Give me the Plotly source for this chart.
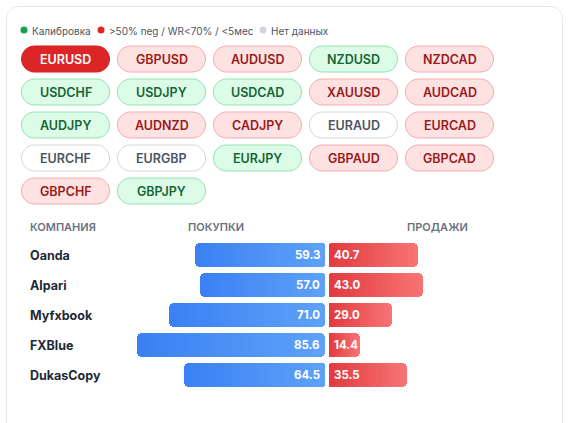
import plotly.graph_objects as go

W, H = 569, 423

# ---------------- data ----------------
pairs = ["EURUSD", "GBPUSD", "AUDUSD", "NZDUSD", "NZDCAD",
         "USDCHF", "USDJPY", "USDCAD", "XAUUSD", "AUDCAD",
         "AUDJPY", "AUDNZD", "CADJPY", "EURAUD", "EURCAD",
         "EURCHF", "EURGBP", "EURJPY", "GBPAUD", "GBPCAD",
         "GBPCHF", "GBPJPY"]
pair_status = ["active", "neg", "neg", "calib", "neg",
               "calib", "calib", "calib", "neg", "neg",
               "calib", "neg", "neg", "none", "neg",
               "none", "none", "calib", "neg", "neg",
               "neg", "calib"]

legend_labels = ["Калибровка", ">50% neg / WR<70% / <5мес", "Нет данных"]
legend_colors = ["#16a34a", "#dc2626", "#d1d5db"]

headers = ["КОМПАНИЯ", "ПОКУПКИ", "ПРОДАЖИ"]
companies = ["Oanda", "Alpari", "Myfxbook", "FXBlue", "DukasCopy"]
buy = [59.3, 57.0, 71.0, 85.6, 64.5]
sell = [40.7, 43.0, 29.0, 14.4, 35.5]

# ---------------- styling / layout helpers ----------------
FONT = "Inter, Noto Sans, sans-serif"
CENTER_PX = 327.0
SCALE = 2.2          # px per percent
ROW0_PX = 255.0
ROW_STEP = 30.0
GAP = 0.7            # half gap between buy/sell bars (units)

def X(p):
    return p / W

def Y(p):
    return 1 - p / H

def rrect(x0, y0, x1, y1, r):
    k = 0.5523 * r
    pts = [
        f"M {X(x0 + r)},{Y(y0)}",
        f"L {X(x1 - r)},{Y(y0)}",
        f"C {X(x1 - r + k)},{Y(y0)} {X(x1)},{Y(y0 + r - k)} {X(x1)},{Y(y0 + r)}",
        f"L {X(x1)},{Y(y1 - r)}",
        f"C {X(x1)},{Y(y1 - r + k)} {X(x1 - r + k)},{Y(y1)} {X(x1 - r)},{Y(y1)}",
        f"L {X(x0 + r)},{Y(y1)}",
        f"C {X(x0 + r - k)},{Y(y1)} {X(x0)},{Y(y1 - r + k)} {X(x0)},{Y(y1 - r)}",
        f"L {X(x0)},{Y(y0 + r)}",
        f"C {X(x0)},{Y(y0 + r - k)} {X(x0 + r - k)},{Y(y0)} {X(x0 + r)},{Y(y0)}",
        "Z",
    ]
    return " ".join(pts)

def hex2rgb(h):
    h = h.lstrip("#")
    return tuple(int(h[i:i + 2], 16) for i in (0, 2, 4))

def mix(c1, c2, t):
    a, b = hex2rgb(c1), hex2rgb(c2)
    return "rgb(%d,%d,%d)" % tuple(round(a[i] + (b[i] - a[i]) * t) for i in range(3))

styles = {
    "active": dict(fill="#dc2626", line="#d42020", text="#ffffff"),
    "neg": dict(fill="#fee2e2", line="#f5aaaa", text="#991b1b"),
    "calib": dict(fill="#dcfce7", line="#8ee5ad", text="#166534"),
    "none": dict(fill="#ffffff", line="#d1d5db", text="#4b5563"),
}

shapes = []
annotations = []

# card
shapes.append(dict(type="path", xref="paper", yref="paper", layer="below",
                   path=rrect(6.5, 6.5, 562.5, 470, 12),
                   fillcolor="#ffffff", line=dict(color="#e5e7eb", width=1)))

# legend
legend_x = [24, 101, 263]
for lx, lab, col in zip(legend_x, legend_labels, legend_colors):
    shapes.append(dict(type="circle", xref="paper", yref="paper", layer="above",
                       x0=X(lx - 3.5), x1=X(lx + 3.5), y0=Y(30 + 3.5), y1=Y(30 - 3.5),
                       fillcolor=col, line=dict(width=0)))
    annotations.append(dict(text=lab, xref="paper", yref="paper", x=X(lx + 6), y=Y(30.5),
                            xanchor="left", yanchor="middle", showarrow=False,
                            font=dict(family=FONT, size=10, color="#4b5563")))

# pills
for i, (name, st) in enumerate(zip(pairs, pair_status)):
    r, c = divmod(i, 5)
    x0 = 21.5 + 96 * c
    x1 = x0 + 88
    cy = 59 + 33 * r
    s = styles[st]
    shapes.append(dict(type="path", xref="paper", yref="paper", layer="below",
                       path=rrect(x0, cy - 13, x1, cy + 13, 13),
                       fillcolor=s["fill"], line=dict(color=s["line"], width=1)))
    annotations.append(dict(text=name, xref="paper", yref="paper",
                            x=X((x0 + x1) / 2), y=Y(cy + 0.5),
                            xanchor="center", yanchor="middle", showarrow=False,
                            font=dict(family=FONT, size=12.5, color=s["text"],
                                      weight=600)))

# table headers
header_x = [28, 186, 405]
for hx, ht in zip(header_x, headers):
    annotations.append(dict(text=ht, xref="paper", yref="paper", x=X(hx), y=Y(226.5),
                            xanchor="left", yanchor="middle", showarrow=False,
                            font=dict(family=FONT, size=11, color="#6b7280", weight=600)))

# ---------------- bars (gradient by overlaid segments) ----------------
fig = go.Figure()
N = 18
CAP = 0.6
rows = list(range(len(companies)))

def add_side(values, sign, c_outer, c_inner):
    def p(v, t):
        return sign * (GAP + v * (1 - t))
    # outer rounded cap (its inner part is covered by the segments)
    fig.add_trace(go.Bar(
        orientation="h", y=rows,
        base=[p(v, CAP) for v in values],
        x=[p(v, 0) - p(v, CAP) for v in values],
        width=0.8, marker=dict(color=mix(c_outer, c_inner, 0.5 / N),
                               cornerradius=5, line=dict(width=0)),
        hoverinfo="skip", showlegend=False))
    for s in range(1, N):
        t = s / N
        fig.add_trace(go.Bar(
            orientation="h", y=rows,
            base=[p(v, t) for v in values],
            x=[p(v, 1) - p(v, t) for v in values],
            width=0.8, marker=dict(color=mix(c_outer, c_inner, (s + 0.5) / N),
                                   cornerradius=5, line=dict(width=0)),
            hoverinfo="skip", showlegend=False))

add_side(buy, -1, "#3b80f4", "#5fa2f8")
add_side(sell, 1, "#f87474", "#e13a3e")

# company names + values
for i, (name, b, s) in enumerate(zip(companies, buy, sell)):
    annotations.append(dict(text=name, xref="x", yref="y", x=(28 - CENTER_PX) / SCALE, y=i,
                            xanchor="left", yanchor="middle", showarrow=False,
                            font=dict(family=FONT, size=12.5, color="#1f2937", weight=700)))
    annotations.append(dict(text=f"{b:.1f}", xref="x", yref="y", x=-2.4, y=i,
                            xanchor="right", yanchor="middle", showarrow=False,
                            font=dict(family=FONT, size=11.5, color="#ffffff", weight=700)))
    annotations.append(dict(text=f"{s:.1f}", xref="x", yref="y", x=2.4, y=i,
                            xanchor="left", yanchor="middle", showarrow=False,
                            font=dict(family=FONT, size=11.5, color="#ffffff", weight=700)))

fig.update_layout(
    width=W, height=H,
    margin=dict(l=0, r=0, t=0, b=0, pad=0),
    paper_bgcolor="#ffffff", plot_bgcolor="rgba(0,0,0,0)",
    barmode="overlay", bargap=0,
    showlegend=False,
    xaxis=dict(range=[-CENTER_PX / SCALE, (W - CENTER_PX) / SCALE], visible=False,
               fixedrange=True),
    yaxis=dict(range=[(H - ROW0_PX) / ROW_STEP, -ROW0_PX / ROW_STEP], visible=False,
               fixedrange=True),
    shapes=shapes, annotations=annotations,
    font=dict(family=FONT),
)

fig.write_html("out.html", config={"displayModeBar": False})
